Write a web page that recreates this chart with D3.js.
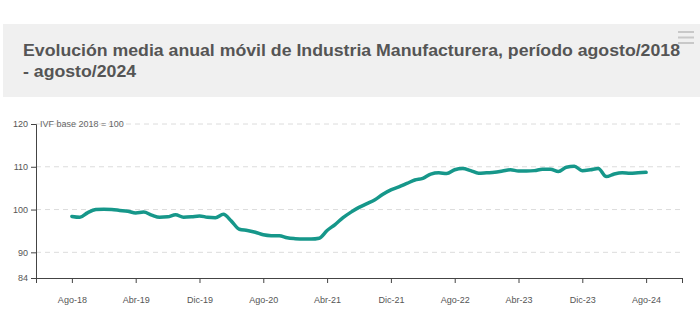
<!DOCTYPE html>
<html>
<head>
<meta charset="utf-8">
<script src="https://cdn.jsdelivr.net/npm/d3@7"></script>
<style>
  html, body { margin: 0; padding: 0; background: #fff; }
  svg { display: block; font-family: "Liberation Sans", Arial, sans-serif; }
</style>
</head>
<body>
<div id="chart"></div>
<script>
// IVF media anual movil, Industria Manufacturera (base 2018 = 100)
const meses = ['Ene', 'Feb', 'Mar', 'Abr', 'May', 'Jun', 'Jul', 'Ago', 'Sep', 'Oct', 'Nov', 'Dic'];
const inicio = { mes: 7, anio: 2018 }; // agosto 2018

const valores = [
  98.4, 98.2, 99.3, 100.0, 100.1, 100.0, 99.8, 99.6, 99.2, 99.4,
  98.7, 98.2, 98.3, 98.8, 98.2, 98.3, 98.5, 98.2, 98.1, 98.9,
  97.3, 95.4, 95.1, 94.7, 94.1, 93.9, 93.9, 93.4, 93.2, 93.1,
  93.1, 93.3, 95.1, 96.5, 98.1, 99.4, 100.5, 101.4, 102.3, 103.6,
  104.6, 105.3, 106.1, 106.9, 107.3, 108.3, 108.6, 108.4, 109.3, 109.6,
  109.1, 108.5, 108.6, 108.7, 109.0, 109.3, 109.0, 109.0, 109.1, 109.4,
  109.4, 108.9, 109.9, 110.1, 109.1, 109.3, 109.6, 107.7, 108.3, 108.6,
  108.5, 108.6, 108.7
];

// etiquetas tipo "Ago-18"
const periodos = valores.map((v, i) => {
  const m = (inicio.mes + i) % 12;
  const a = inicio.anio + Math.floor((inicio.mes + i) / 12);
  return meses[m] + '-' + String(a).slice(2);
});

const yTicks = [84, 90, 100, 110, 120];
const yGrid = [90, 100, 110, 120];
const pasoEtiquetas = 8;

const titulo = ['Evolución media anual móvil de Industria Manufacturera, período agosto/2018', '- agosto/2024'];
const unidad = 'IVF base 2018 = 100';

const width = 700, height = 333;

const svg = d3.select('#chart').append('svg')
  .attr('width', width)
  .attr('height', height);

// cabecera gris con el titulo
svg.append('rect')
  .attr('x', 3).attr('y', 24)
  .attr('width', 697).attr('height', 73)
  .attr('fill', '#f0f0f0');

const t1 = svg.append('text')
  .attr('x', 23).attr('y', 56)
  .attr('fill', '#555')
  .style('font-size', '16px')
  .style('font-weight', 'bold')
  .text(titulo[0]);
const t2 = svg.append('text')
  .attr('x', 23).attr('y', 77)
  .attr('fill', '#555')
  .style('font-size', '16px')
  .style('font-weight', 'bold')
  .text(titulo[1]);

// ajustar el ancho del titulo al de la cabecera
const w1 = t1.node().getComputedTextLength();
const k = 657 / w1;
t1.attr('textLength', 657).attr('lengthAdjust', 'spacingAndGlyphs');
t2.attr('textLength', t2.node().getComputedTextLength() * k).attr('lengthAdjust', 'spacingAndGlyphs');

// menu
const menu = svg.append('g').attr('stroke', '#c8c8c8').attr('stroke-width', 2);
[32, 37.5, 43].forEach(y => {
  menu.append('line').attr('x1', 678).attr('x2', 694).attr('y1', y).attr('y2', y);
});

// escalas
const x = d3.scaleLinear()
  .domain([-4.5, valores.length - 1 + 4.5])
  .range([36, 682]);
const y = d3.scaleLinear()
  .domain([84, 120])
  .range([278, 124]);

// lineas de referencia
svg.append('g')
  .selectAll('line')
  .data(yGrid)
  .join('line')
  .attr('x1', 36).attr('x2', 682)
  .attr('y1', d => y(d)).attr('y2', d => y(d))
  .attr('stroke', '#dcdcdc')
  .attr('stroke-dasharray', '5,4');

// eje Y
const ejeY = svg.append('g')
  .attr('transform', 'translate(36,0)')
  .call(d3.axisLeft(y).tickValues(yTicks).tickSize(5).tickPadding(3));
ejeY.select('.domain').attr('stroke', '#444');
ejeY.selectAll('.tick line').attr('stroke', '#444');
ejeY.selectAll('text').attr('fill', '#555').style('font-size', '9px').style('font-family', 'Liberation Sans, Arial, sans-serif');

// eje X: marcas cada 8 meses mas los extremos
const xTickVals = [x.domain()[0]]
  .concat(d3.range(0, valores.length, pasoEtiquetas))
  .concat([x.domain()[1]]);
const ejeX = svg.append('g')
  .attr('transform', 'translate(0,278)')
  .call(d3.axisBottom(x)
    .tickValues(xTickVals)
    .tickSize(5)
    .tickSizeOuter(0)
    .tickPadding(14)
    .tickFormat(d => Number.isInteger(d) ? periodos[d] : ''));
ejeX.select('.domain').attr('stroke', '#444');
ejeX.selectAll('.tick line').attr('stroke', '#444');
ejeX.selectAll('text').attr('fill', '#555').style('font-size', '9px').style('font-family', 'Liberation Sans, Arial, sans-serif');

// unidad
svg.append('text')
  .attr('x', 40).attr('y', 127)
  .attr('fill', '#666')
  .style('font-size', '9px')
  .text(unidad);

// serie
const linea = d3.line()
  .x((d, i) => x(i))
  .y(d => y(d))
  .curve(d3.curveMonotoneX);

svg.append('path')
  .datum(valores)
  .attr('d', linea)
  .attr('fill', 'none')
  .attr('stroke', '#16978a')
  .attr('stroke-width', 3.5)
  .attr('stroke-linejoin', 'round')
  .attr('stroke-linecap', 'round');
</script>
</body>
</html>
